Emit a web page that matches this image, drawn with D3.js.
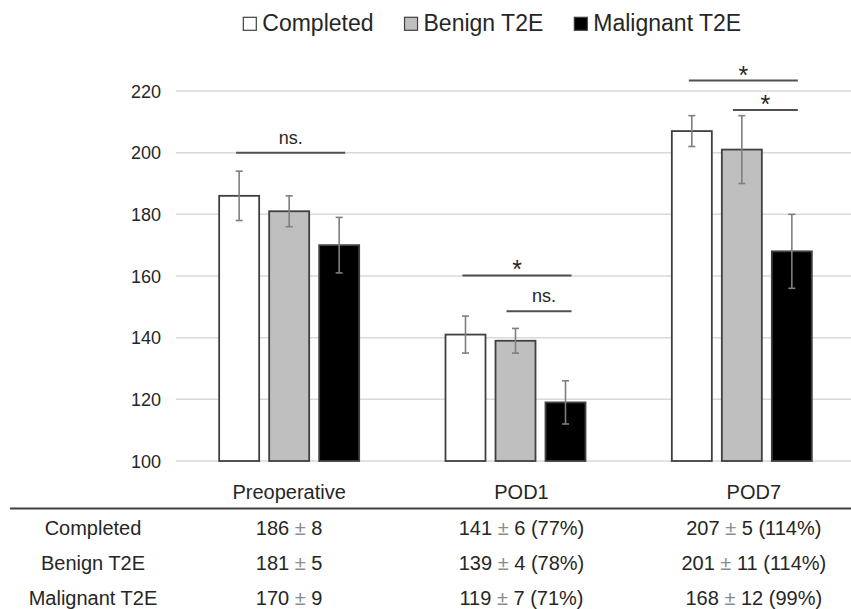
<!DOCTYPE html>
<html>
<head>
<meta charset="utf-8">
<script src="https://cdn.jsdelivr.net/npm/d3@7"></script>
<style>
  body { margin: 0; background: #fff; }
  text { font-family: "Liberation Sans", Arial, sans-serif; fill: #262626; }
</style>
</head>
<body>
<svg id="chart" width="851" height="609"></svg>
<script>
var categories = ["Preoperative", "POD1", "POD7"];
var series = ["Completed", "Benign T2E", "Malignant T2E"];
var fills = ["#ffffff", "#bfbfbf", "#000000"];

var completed = [186, 141, 207];
var benign = [181, 139, 201];
var malignant = [170, 119, 168];
var completedErr = [8, 6, 5];
var benignErr = [5, 4, 11];
var malignantErr = [9, 7, 12];
var completedPct = [null, 77, 114];
var benignPct = [null, 78, 114];
var malignantPct = [null, 71, 99];

var yTicks = [100, 120, 140, 160, 180, 200, 220];

// significance brackets
var sigCategory = ["Preoperative", "POD1", "POD1", "POD7", "POD7"];
var sigFrom = ["Completed", "Completed", "Benign T2E", "Completed", "Benign T2E"];
var sigTo = ["Malignant T2E", "Malignant T2E", "Malignant T2E", "Malignant T2E", "Malignant T2E"];
var sigLevel = [200, 160.2, 148.6, 223.4, 213.8];
var sigLabel = ["ns.", "*", "ns.", "*", "*"];

var values = [completed, benign, malignant];
var errs = [completedErr, benignErr, malignantErr];
var pcts = [completedPct, benignPct, malignantPct];

var svg = d3.select("#chart");

var y = d3.scaleLinear().domain([100, 220]).range([461, 91]);
var x0 = d3.scaleBand().domain(categories).range([176, 855])
           .paddingInner(0.3814).paddingOuter(0.1907);
var x1 = d3.scaleBand().domain(series).range([0, x0.bandwidth()])
           .paddingInner(0.2).paddingOuter(0);

// gridlines
svg.append("g").selectAll("line").data(yTicks).enter()
   .append("line")
   .attr("x1", 176).attr("x2", 851)
   .attr("y1", function(d){ return y(d); })
   .attr("y2", function(d){ return y(d); })
   .attr("stroke", "#d9d9d9").attr("stroke-width", 1.5);

// y axis labels
var yAxis = d3.axisLeft(y).tickValues(yTicks).tickSize(0).tickPadding(0);
var ya = svg.append("g").attr("transform", "translate(161,0)").call(yAxis);
ya.select(".domain").remove();
ya.selectAll("text").attr("font-size", "18px")
  .attr("font-family", "Liberation Sans, Arial, sans-serif")
  .attr("fill", "#333").attr("dy", "0.34em");

// bars
var rows = [];
categories.forEach(function(c, ci){
  series.forEach(function(s, si){
    rows.push({cat: c, ser: s, si: si, v: values[si][ci], e: errs[si][ci]});
  });
});

svg.append("g").selectAll("rect").data(rows).enter()
   .append("rect")
   .attr("x", function(d){ return x0(d.cat) + x1(d.ser); })
   .attr("y", function(d){ return y(d.v); })
   .attr("width", x1.bandwidth())
   .attr("height", function(d){ return y(100) - y(d.v); })
   .attr("fill", function(d){ return fills[d.si]; })
   .attr("stroke", "#404040").attr("stroke-width", 1.8);

// error bars
var eb = svg.append("g").selectAll("g").data(rows).enter().append("g")
   .attr("stroke", "#7f7f7f").attr("stroke-width", 1.6);
eb.append("line")
  .attr("x1", function(d){ return x0(d.cat) + x1(d.ser) + x1.bandwidth()/2; })
  .attr("x2", function(d){ return x0(d.cat) + x1(d.ser) + x1.bandwidth()/2; })
  .attr("y1", function(d){ return y(d.v - d.e); })
  .attr("y2", function(d){ return y(d.v + d.e); });
[-1, 1].forEach(function(sg){
  eb.append("line")
    .attr("x1", function(d){ return x0(d.cat) + x1(d.ser) + x1.bandwidth()/2 - 3.5; })
    .attr("x2", function(d){ return x0(d.cat) + x1(d.ser) + x1.bandwidth()/2 + 3.5; })
    .attr("y1", function(d){ return y(d.v + sg*d.e); })
    .attr("y2", function(d){ return y(d.v + sg*d.e); });
});

// significance
var sig = sigCategory.map(function(c, i){
  return {cat: c, from: sigFrom[i], to: sigTo[i], lev: sigLevel[i], lab: sigLabel[i]};
});
function barMid(cat, ser){ return x0(cat) + x1(ser) + x1.bandwidth()/2; }
var sg = svg.append("g").selectAll("g").data(sig).enter().append("g");
sg.append("line")
  .attr("x1", function(d){ return barMid(d.cat, d.from) - (d.from == "Completed" ? 3 : 9); })
  .attr("x2", function(d){ return barMid(d.cat, d.to) + 6; })
  .attr("y1", function(d){ return y(d.lev); })
  .attr("y2", function(d){ return y(d.lev); })
  .attr("stroke", "#505050").attr("stroke-width", 2);
sg.append("text")
  .attr("x", function(d){
    var a = barMid(d.cat, d.from) - (d.from == "Completed" ? 3 : 9);
    var b = barMid(d.cat, d.to) + 6;
    return (a + b)/2 + (d.lab == "ns." && d.from != "Completed" ? 5 : 0);
  })
  .attr("y", function(d){ return y(d.lev) + (d.lab == "*" ? 3 : -9); })
  .attr("text-anchor", "middle")
  .attr("font-size", function(d){ return d.lab == "*" ? "25px" : "18px"; })
  .text(function(d){ return d.lab; });

// legend
var leg = svg.append("g");
var lx = 243.3;
series.forEach(function(s, i){
  leg.append("rect").attr("x", lx).attr("y", 17.3).attr("width", 13).attr("height", 13)
     .attr("fill", fills[i]).attr("stroke", "#404040").attr("stroke-width", 1.2);
  var t = leg.append("text").attr("x", lx + 19).attr("y", 31)
     .attr("font-size", "23px").attr("fill", "#1a1a1a").text(s);
  lx = lx + 19 + t.node().getComputedTextLength() + 31;
});

// table
var tx = d3.scaleBand().domain(categories).range([173, 870]);
var ty = d3.scalePoint().domain(series).range([534.5, 605]);

svg.append("g").selectAll("text").data(categories).enter()
   .append("text")
   .attr("x", function(d){ return tx(d) + tx.bandwidth()/2; })
   .attr("y", 499)
   .attr("text-anchor", "middle").attr("font-size", "20px")
   .text(function(d){ return d; });

svg.append("line").attr("x1", 10).attr("x2", 851).attr("y1", 508.5).attr("y2", 508.5)
   .attr("stroke", "#404040").attr("stroke-width", 2);

svg.append("g").selectAll("text").data(series).enter()
   .append("text")
   .attr("x", 93).attr("y", function(d){ return ty(d); })
   .attr("text-anchor", "middle").attr("font-size", "20px")
   .text(function(d){ return d; });

var cells = [];
series.forEach(function(s, si){
  categories.forEach(function(c, ci){
    cells.push({ser: s, cat: c, v: values[si][ci], e: errs[si][ci], p: pcts[si][ci]});
  });
});
var ct = svg.append("g").selectAll("text").data(cells).enter()
   .append("text")
   .attr("x", function(d){ return tx(d.cat) + tx.bandwidth()/2; })
   .attr("y", function(d){ return ty(d.ser); })
   .attr("text-anchor", "middle").attr("font-size", "20px")
   .attr("xml:space", "preserve");
ct.append("tspan").text(function(d){ return d.v + " "; });
ct.append("tspan").attr("fill", "#8c8c8c").text("\u00b1");
ct.append("tspan").text(function(d){ return " " + d.e + (d.p != null ? " (" + d.p + "%)" : ""); });
</script>
</body>
</html>
